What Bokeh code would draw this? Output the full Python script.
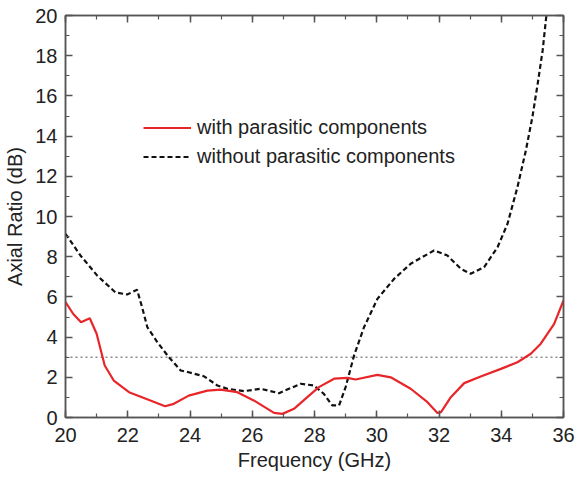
from bokeh.plotting import figure
from bokeh.models import Range1d, LinearAxis, SingleIntervalTicker, Legend, LegendItem
from bokeh.embed import file_html
from bokeh.resources import INLINE

freq_with = [20.0, 20.25, 20.5, 20.78, 21.0, 21.26, 21.55, 22.04, 22.5, 23.2, 23.48, 23.96, 24.56,
             24.98, 25.52, 26.05, 26.7, 26.97, 27.34, 27.77, 28.14, 28.63, 29.06, 29.32, 30.02,
             30.45, 31.09, 31.63, 31.95, 32.06, 32.38, 32.81, 33.34, 33.99, 34.52, 34.95, 35.27,
             35.7, 36.0]
ar_with = [5.74, 5.15, 4.74, 4.94, 4.17, 2.59, 1.84, 1.26, 0.98, 0.56, 0.68, 1.09, 1.34,
           1.39, 1.26, 0.85, 0.23, 0.18, 0.43, 1.01, 1.51, 1.93, 1.97, 1.89, 2.12,
           2.0, 1.43, 0.76, 0.23, 0.26, 1.01, 1.71, 2.04, 2.42, 2.75, 3.17, 3.67,
           4.66, 5.82]

freq_without = [20.0, 20.48, 21.02, 21.6, 21.98, 22.3, 22.46, 22.63, 22.95, 23.32, 23.7, 23.96,
                24.45, 24.88, 25.2, 25.73, 26.27, 26.86, 27.23, 27.56, 27.98, 28.3, 28.57, 28.79,
                29.0, 29.27, 29.59, 30.02, 30.56, 31.09, 31.84, 32.27, 32.7, 33.02, 33.45, 33.88,
                34.2, 34.52, 34.79, 35.0, 35.17, 35.33, 35.45]
ar_without = [9.14, 8.06, 7.06, 6.23, 6.12, 6.35, 5.49, 4.49, 3.75, 3.0, 2.34, 2.25,
              2.05, 1.59, 1.43, 1.31, 1.43, 1.21, 1.46, 1.68, 1.59, 1.18, 0.6, 0.6,
              1.51, 3.08, 4.49, 5.9, 6.9, 7.65, 8.31, 8.06, 7.4, 7.15, 7.48, 8.47,
              9.63, 11.46, 13.28, 14.94, 16.6, 18.26, 20.0]

ref_freq = [20, 36]
ref_level = [3, 3]

label_with = "with parasitic components"
label_without = "without parasitic components"

FONT = "Liberation Sans"
TXT = "#222222"
AX = "#555555"

p = figure(width=576, height=477, output_backend="svg", toolbar_location=None,
           x_range=Range1d(20, 36), y_range=Range1d(0, 20),
           min_border_left=65, min_border_right=13, min_border_top=15, min_border_bottom=60,
           x_axis_label="Frequency (GHz)", y_axis_label="Axial Ratio (dB)")
p.xgrid.visible = False
p.ygrid.visible = False
p.outline_line_color = AX
p.outline_line_width = 1.5

def style(ax, labels=True):
    ax.ticker = SingleIntervalTicker(interval=2, num_minor_ticks=2)
    ax.axis_line_color = AX
    ax.axis_line_width = 1.5
    ax.major_tick_in = 7
    ax.major_tick_out = 0
    ax.minor_tick_in = 4
    ax.minor_tick_out = 0
    ax.major_tick_line_color = AX
    ax.minor_tick_line_color = AX
    ax.major_tick_line_width = 1.5
    ax.minor_tick_line_width = 1.2
    ax.major_label_text_font = FONT
    ax.major_label_text_font_size = "20px"
    ax.major_label_text_color = TXT
    ax.axis_label_text_font = FONT
    ax.axis_label_text_font_size = "20px"
    ax.axis_label_text_font_style = "normal"
    ax.axis_label_text_color = TXT
    if not labels:
        ax.major_label_text_color = None

style(p.xaxis[0])
style(p.yaxis[0])
p.xaxis[0].major_label_standoff = 10
p.xaxis[0].axis_label_standoff = 4
p.yaxis[0].major_label_standoff = 8
p.yaxis[0].axis_label_standoff = 6

top = LinearAxis()
style(top, labels=False)
top.major_label_text_font_size = "0px"
right = LinearAxis()
style(right, labels=False)
right.major_label_text_font_size = "0px"
p.add_layout(top, "above")
p.add_layout(right, "right")
p.min_border_top = 15
p.min_border_right = 13

p.line(ref_freq, ref_level, line_color="#8a8a8a", line_width=1.6, line_dash="2 3")
r_without = p.line(freq_without, ar_without, line_color="#111111", line_width=2.2, line_dash="5 3")
r_with = p.line(freq_with, ar_with, line_color="#e8262a", line_width=2.2)

legend = Legend(items=[LegendItem(label=label_with, renderers=[r_with]),
                       LegendItem(label=label_without, renderers=[r_without])],
                location=(78, 249), border_line_color=None, background_fill_alpha=0,
                padding=0, margin=0, spacing=6, glyph_width=48, glyph_height=21,
                label_height=21, label_standoff=6,
                label_text_font=FONT, label_text_font_size="20px", label_text_color=TXT)
p.add_layout(legend, "center")

open("out.html", "w").write(file_html(p, INLINE))
